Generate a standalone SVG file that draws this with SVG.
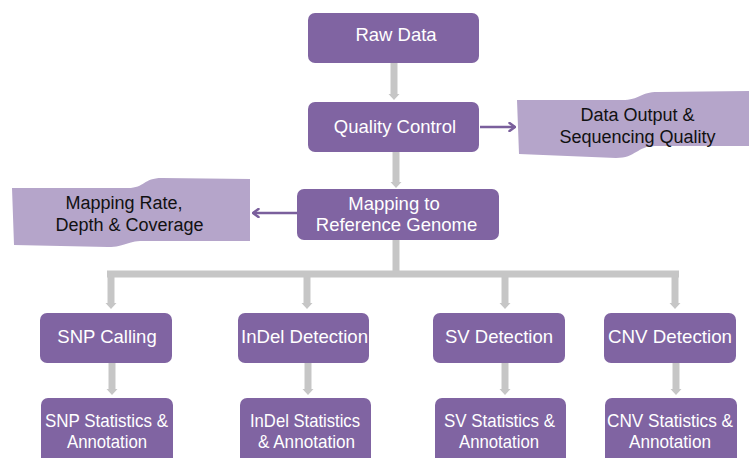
<svg xmlns="http://www.w3.org/2000/svg" width="749" height="458" viewBox="0 0 749 458">
<defs>
<style>
.box{fill:#8064a2;}
.wave{fill:#b5a5ca;}
.bt{font-family:"Liberation Sans",Arial,sans-serif;font-size:18.5px;fill:#ffffff;text-anchor:middle;}
.wt{font-family:"Liberation Sans",Arial,sans-serif;font-size:18px;fill:#111111;text-anchor:middle;}
.g{stroke:#c6c6c6;stroke-width:7;fill:none;}
.p{stroke:#7a5f9c;stroke-width:2.5;fill:none;}
</style>
<marker id="ga" viewBox="0 -6 6 12" refX="0" refY="0" markerWidth="6" markerHeight="12" markerUnits="userSpaceOnUse" orient="auto">
<path d="M0,-5.5 L6,0 L0,5.5 z" fill="#c6c6c6"/>
</marker>
<marker id="pa" viewBox="0 -5 8 10" refX="7" refY="0" markerWidth="8" markerHeight="10" markerUnits="userSpaceOnUse" orient="auto">
<path d="M1.5,-4 L7,0 L1.5,4" fill="none" stroke="#7a5f9c" stroke-width="2.5" stroke-linecap="round" stroke-linejoin="round"/>
</marker>
</defs>
<rect width="749" height="458" fill="#ffffff"/>

<g id="connectors">
<line class="g" x1="394" y1="63" x2="394" y2="94" marker-end="url(#ga)"/>
<line class="g" x1="396" y1="152" x2="396" y2="182" marker-end="url(#ga)"/>
<line class="p" x1="480" y1="127" x2="515" y2="127" marker-end="url(#pa)"/>
<line class="p" x1="297" y1="213" x2="253" y2="213" marker-end="url(#pa)"/>
<line class="g" x1="396" y1="240" x2="396" y2="274"/>
<line class="g" x1="107" y1="274" x2="679" y2="274"/>
<line class="g" x1="111" y1="274" x2="111" y2="303" marker-end="url(#ga)"/>
<line class="g" x1="307" y1="274" x2="307" y2="303" marker-end="url(#ga)"/>
<line class="g" x1="505" y1="274" x2="505" y2="303" marker-end="url(#ga)"/>
<line class="g" x1="675" y1="274" x2="675" y2="303" marker-end="url(#ga)"/>
<line class="g" x1="112" y1="363" x2="112" y2="389" marker-end="url(#ga)"/>
<line class="g" x1="308" y1="363" x2="308" y2="389" marker-end="url(#ga)"/>
<line class="g" x1="505" y1="363" x2="505" y2="389" marker-end="url(#ga)"/>
<line class="g" x1="676" y1="363" x2="676" y2="389" marker-end="url(#ga)"/>
</g>

<g id="raw-data">
<rect class="box" x="308" y="13" width="171" height="50" rx="7"/>
<text class="bt" x="396" y="41">Raw Data</text>
</g>

<g id="quality-control">
<rect class="box" x="308" y="102" width="171" height="50" rx="7"/>
<text class="bt" x="395" y="133">Quality Control</text>
</g>

<g id="data-output">
<path class="wave" d="M517,100 L622,100 C640,100 640,92 658,92 L749,91 L749,146 L655,146 C637,146 636,158 616,158 L519,154 Z"/>
<text class="wt" x="637.5" y="121">Data Output &amp;</text>
<text class="wt" x="637.5" y="143">Sequencing Quality</text>
</g>

<g id="mapping">
<rect class="box" x="297" y="189" width="202" height="51" rx="7"/>
<text class="bt" x="394" y="210">Mapping to</text>
<text class="bt" x="396.5" y="231">Reference Genome</text>
</g>

<g id="mapping-rate">
<path class="wave" d="M12,188 L128,188 C145,188 143,178 162,178 L250,179 L250,241 L143,241 C126,241 126,247 108,247 L14,245 Z"/>
<text class="wt" x="124" y="209">Mapping Rate,</text>
<text class="wt" x="129.5" y="231">Depth &amp; Coverage</text>
</g>

<g id="snp-calling">
<rect class="box" x="40" y="313" width="132" height="50" rx="7"/>
<text class="bt" x="107" y="343">SNP Calling</text>
</g>

<g id="indel-detection">
<rect class="box" x="238" y="313" width="131" height="50" rx="7"/>
<text class="bt" x="304.5" y="343" textLength="127" lengthAdjust="spacingAndGlyphs">InDel Detection</text>
</g>

<g id="sv-detection">
<rect class="box" x="433" y="313" width="132" height="50" rx="7"/>
<text class="bt" x="499" y="343">SV Detection</text>
</g>

<g id="cnv-detection">
<rect class="box" x="604" y="313" width="132" height="50" rx="7"/>
<text class="bt" x="670" y="343" textLength="124" lengthAdjust="spacingAndGlyphs">CNV Detection</text>
</g>

<g id="snp-stats">
<rect class="box" x="41" y="398" width="132" height="70" rx="7"/>
<text class="bt" x="106.5" y="427" textLength="123" lengthAdjust="spacingAndGlyphs">SNP Statistics &amp;</text>
<text class="bt" x="107" y="448" textLength="80" lengthAdjust="spacingAndGlyphs">Annotation</text>
</g>

<g id="indel-stats">
<rect class="box" x="240" y="398" width="131" height="70" rx="7"/>
<text class="bt" x="305" y="427" textLength="110" lengthAdjust="spacingAndGlyphs">InDel Statistics</text>
<text class="bt" x="306.5" y="448" textLength="97" lengthAdjust="spacingAndGlyphs">&amp; Annotation</text>
</g>

<g id="sv-stats">
<rect class="box" x="435" y="398" width="131" height="70" rx="7"/>
<text class="bt" x="499.5" y="427" textLength="111" lengthAdjust="spacingAndGlyphs">SV Statistics &amp;</text>
<text class="bt" x="499" y="448" textLength="80" lengthAdjust="spacingAndGlyphs">Annotation</text>
</g>

<g id="cnv-stats">
<rect class="box" x="605" y="398" width="132" height="70" rx="7"/>
<text class="bt" x="670" y="427" textLength="126" lengthAdjust="spacingAndGlyphs">CNV Statistics &amp;</text>
<text class="bt" x="670" y="448" textLength="82" lengthAdjust="spacingAndGlyphs">Annotation</text>
</g>
</svg>
